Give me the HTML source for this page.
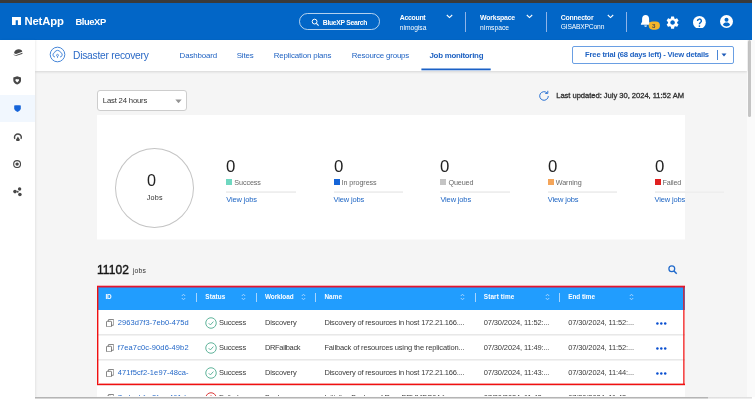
<!DOCTYPE html>
<html><head><meta charset="utf-8"><title>BlueXP</title>
<style>
*{box-sizing:border-box;margin:0;padding:0}
html,body{width:755px;height:401px;overflow:hidden;background:#fff;font-family:"Liberation Sans",sans-serif}
#root{position:relative;width:755px;height:401px;overflow:hidden;background:#fff}
.a{position:absolute}
.t{position:absolute;white-space:nowrap;line-height:1}
</style></head><body><div id="root">
<div class="a" style="left:0px;top:0px;width:752.0px;height:3.0px;background:#3a3a3a"></div>
<div class="a" style="left:0px;top:3px;width:752.0px;height:37.0px;background:#0266c7"></div>
<div class="a" style="left:35px;top:70px;width:712.0px;height:327.0px;background:#f5f5f5"></div>
<div class="a" style="left:747px;top:40px;width:8.0px;height:357.0px;background:#fafafa"></div>
<div class="a" style="left:748px;top:40px;width:3.0px;height:77.0px;background:#c4c4c4;border-radius:2px"></div>
<div class="a" style="left:35px;top:40px;width:712.0px;height:30.5px;background:#fff;box-shadow:0 1px 2.500px rgba(0,0,0,.13)"></div>
<div class="a" style="left:0px;top:40px;width:35.0px;height:357.0px;background:#fff;box-shadow:1px 0 2px rgba(0,0,0,.07)"></div>
<svg class="a" style="left:11.8px;top:17.4px" width="9.6" height="8.1" viewBox="0 0 9.6 8.1"><path d="M0 0h9.600v8.100H5.900V3.300H3.700V8.100H0z" fill="#fff"/></svg>
<div class="a" style="left:298.9px;top:13.1px;width:81.0px;height:17.1px;border:1px solid rgba(255,255,255,.7);border-radius:9px"></div>
<svg class="a" style="left:310.5px;top:18px" width="9" height="9" viewBox="0 0 9 9"><circle cx="3.600" cy="3.600" r="2.400" fill="none" stroke="#fff" stroke-width="1"/><path d="M5.400 5.400l2.200 2.200" stroke="#fff" stroke-width="1.100"/></svg>
<svg class="a" style="left:445.6px;top:14px" width="7" height="5" viewBox="0 0 7 5"><path d="M.8 1l2.700 2.600L6.200 1" fill="none" stroke="#fff" stroke-width="1.100"/></svg>
<svg class="a" style="left:526.1px;top:14px" width="7" height="5" viewBox="0 0 7 5"><path d="M.8 1l2.700 2.600L6.200 1" fill="none" stroke="#fff" stroke-width="1.100"/></svg>
<svg class="a" style="left:606.5px;top:14px" width="7" height="5" viewBox="0 0 7 5"><path d="M.8 1l2.700 2.600L6.200 1" fill="none" stroke="#fff" stroke-width="1.100"/></svg>
<div class="a" style="left:465px;top:12px;width:1.0px;height:19.5px;background:#8fb4e8"></div>
<div class="a" style="left:545.5px;top:12px;width:1.0px;height:19.5px;background:#8fb4e8"></div>
<div class="a" style="left:626px;top:12px;width:1.0px;height:19.5px;background:#8fb4e8"></div>
<svg class="a" style="left:640px;top:13.8px" width="22" height="17" viewBox="0 0 22 17"><path d="M5.600 1c-2.100 0-3.500 1.600-3.500 3.800v3L.9 9.900v.8h9.400v-.8L9.100 7.800v-3C9.100 2.600 7.700 1 5.600 1zM4.200 11.400a1.400 1.400 0 0 0 2.800 0z" fill="#fff"/><rect x="8.700" y="7.500" width="11.200" height="8.200" rx="4.100" fill="#f3b62a"/></svg>
<svg class="a" style="left:664.8px;top:14.5px" width="15.2" height="15.2" viewBox="0 0 24 24"><path fill="#fff" d="M19.140 12.940c.040-.300.060-.610.060-.940 0-.320-.020-.640-.070-.940l2.030-1.580a.490.490 0 0 0 .120-.610l-1.920-3.320a.488.488 0 0 0-.590-.220l-2.390.960c-.500-.380-1.030-.700-1.620-.940l-.360-2.540a.484.484 0 0 0-.480-.410h-3.840c-.240 0-.430.170-.470.410l-.360 2.540c-.590.240-1.130.570-1.620.940l-2.390-.960c-.220-.080-.470 0-.590.220L2.740 8.870c-.120.210-.080.470.120.610l2.030 1.580c-.050.300-.090.630-.090.940s.020.640.070.940l-2.030 1.580a.490.490 0 0 0-.120.610l1.920 3.320c.120.220.370.290.590.220l2.390-.960c.500.380 1.030.700 1.620.940l.360 2.540c.050.240.240.410.480.410h3.840c.240 0 .440-.170.470-.410l.360-2.540c.590-.240 1.130-.560 1.620-.940l2.390.960c.220.080.470 0 .590-.220l1.920-3.320c.120-.220.070-.470-.120-.610l-2.010-1.580zM12 15.600c-1.980 0-3.600-1.620-3.600-3.600s1.620-3.600 3.600-3.600 3.600 1.620 3.600 3.600-1.620 3.600-3.600 3.600z"/></svg>
<svg class="a" style="left:693px;top:15.5px" width="12.8" height="12.8" viewBox="0 0 12.8 12.8"><circle cx="6.400" cy="6.400" r="6.400" fill="#fff"/><path d="M4.500 5a1.950 1.950 0 1 1 2.900 1.700c-.7.400-1 .75-1 1.500" fill="none" stroke="#0266c7" stroke-width="1.400"/><circle cx="6.400" cy="10.100" r=".85" fill="#0266c7"/></svg>
<svg class="a" style="left:719.7px;top:15.4px" width="13" height="13" viewBox="0 0 13 13"><circle cx="6.500" cy="6.500" r="6.500" fill="#fff"/><circle cx="6.500" cy="4.800" r="2" fill="#0266c7"/><path d="M2.900 10c.5-1.900 2.100-2.500 3.600-2.500s3.100.6 3.600 2.500a5.100 5.100 0 0 1-7.200 0z" fill="#0266c7"/></svg>
<div class="a" style="left:0px;top:94.5px;width:35.0px;height:27.2px;background:#f1f7fe"></div>
<svg class="a" style="left:12.5px;top:49.3px" width="10" height="7" viewBox="0 0 10 7"><path d="M1.200 3.300C1.900 1.300 3.800.2 5.800.3 7.800.5 9.300 1.500 9.200 2.700L3.100 4.900C1.800 4.900.9 4.300 1.200 3.300z" fill="#484848"/><path d="M.4 4.700c.4.900 1.400 1.300 2.900 1.200L9.500 3.700c.2.600 0 1.100-.4 1.400L3.500 6.700C1.800 6.800.5 6 .4 4.700z" fill="#484848"/></svg>
<svg class="a" style="left:13px;top:76.3px" width="8.4" height="8.8" viewBox="0 0 8.4 8.8"><path d="M4.200.2L8.100 1.500v2.700c0 2.200-1.900 3.600-3.900 4.300C2.200 7.800.3 6.400.3 4.200V1.500z" fill="#484848"/><path d="M4.200 6.400L2.500 4.700a1.050 1.050 0 0 1 1.700-1.200 1.050 1.050 0 0 1 1.700 1.200z" fill="#fff"/></svg>
<svg class="a" style="left:13.7px;top:105.2px" width="7" height="7" viewBox="0 0 7 7"><path d="M.2.600C2.500.1 4.500.1 6.800.6v2.700C6.800 5.100 5.200 6.200 3.500 6.900 1.800 6.200.2 5.100.2 3.300z" fill="#1664d9"/></svg>
<svg class="a" style="left:12.6px;top:132.6px" width="9.8" height="8.4" viewBox="0 0 9.8 8.4"><path d="M1.300 6.200C-.3 3.200 2 .3 4.900.3s5.200 2.900 3.600 5.900L7.300 5.600C8.200 3.600 6.800 1.700 4.900 1.700S1.600 3.600 2.500 5.600z" fill="#484848"/><path d="M4.900 3.600L7 7H2.800z" fill="#484848"/><rect x="3.300" y="6.800" width="3.200" height="1.400" fill="#484848"/></svg>
<svg class="a" style="left:13.2px;top:160.2px" width="8.2" height="8.2" viewBox="0 0 8.2 8.2"><circle cx="4.100" cy="4.100" r="3.450" fill="none" stroke="#484848" stroke-width="1.100"/><circle cx="4.100" cy="4.100" r="1.700" fill="#484848"/></svg>
<svg class="a" style="left:13px;top:187.3px" width="9" height="9.6" viewBox="0 0 9 9.6"><circle cx="2" cy="4.600" r="1.800" fill="#484848"/><circle cx="6.600" cy="2" r="1.700" fill="#484848"/><circle cx="6.900" cy="7.500" r="1.800" fill="#484848"/><circle cx="4.700" cy="4.700" r="1" fill="#484848"/></svg>
<svg class="a" style="left:49px;top:46.2px" width="17" height="17" viewBox="0 0 17 17"><circle cx="8.500" cy="8.500" r="7.300" fill="none" stroke="#4585d8" stroke-width="1"/><path d="M6 11a2.200 2.200 0 0 1-.5-4.300 3.200 3.200 0 0 1 6.100-.2A2.300 2.300 0 0 1 11 11" fill="none" stroke="#4585d8" stroke-width=".95"/><circle cx="8.500" cy="9.300" r="1" fill="none" stroke="#4585d8" stroke-width=".8"/><path d="M8.500 10.300v1.500" stroke="#4585d8" stroke-width=".9"/></svg>
<svg class="a" style="left:421px;top:68px" width="70" height="3" viewBox="0 0 70 3"><rect x=".4" y=".5" width="69.300" height="1.800" fill="#1b61c6"/></svg>
<div class="a" style="left:572.3px;top:46px;width:161.5px;height:17.7px;border:1px solid #6a9fe3;border-radius:2px;background:#fff"></div>
<div class="a" style="left:717.2px;top:49.8px;width:1.0px;height:10.1px;background:#4a86d6"></div>
<svg class="a" style="left:721px;top:53.4px" width="6" height="4" viewBox="0 0 6 4"><path d="M.5.500h5L3 3.500z" fill="#1e5bb8"/></svg>
<div class="a" style="left:97px;top:90px;width:90.0px;height:21.0px;border:1px solid #cdcdcd;border-radius:3px;background:#fff"></div>
<svg class="a" style="left:174.8px;top:98.5px" width="7" height="4.5" viewBox="0 0 7 4.5"><path d="M.3.400h6.400L3.500 4.200z" fill="#959595"/></svg>
<svg class="a" style="left:538.2px;top:89.5px" width="12" height="12" viewBox="0 0 12 12"><path d="M10.300 6a4.300 4.300 0 1 1-1.400-3.200" fill="none" stroke="#2b73d4" stroke-width="1"/><path d="M9.800.8v2.600H7.200" fill="none" stroke="#2b73d4" stroke-width="1"/></svg>
<div class="a" style="left:97px;top:115px;width:587.5px;height:124.0px;background:#fff"></div>
<div class="a" style="left:97px;top:239px;width:587.5px;height:1.0px;background:#fafafa"></div>
<div class="a" style="left:114.6px;top:147.6px;width:79.2px;height:80.1px;border:1px solid #c4c4c4;border-radius:50%"></div>
<div class="a" style="left:226.3px;top:179px;width:6.0px;height:6.0px;background:#6fd7c0"></div>
<div class="a" style="left:226.3px;top:191px;width:69.5px;height:1.0px;background:#f1f1f1"></div>
<div class="a" style="left:226.3px;top:192px;width:69.5px;height:1.0px;background:#eeeeee"></div>
<div class="a" style="left:333.5px;top:179px;width:6.0px;height:6.0px;background:#1565d8"></div>
<div class="a" style="left:333.5px;top:191px;width:69.5px;height:1.0px;background:#f1f1f1"></div>
<div class="a" style="left:333.5px;top:192px;width:69.5px;height:1.0px;background:#eeeeee"></div>
<div class="a" style="left:440.4px;top:179px;width:6.0px;height:6.0px;background:#c4c4c4"></div>
<div class="a" style="left:440.4px;top:191px;width:69.5px;height:1.0px;background:#f1f1f1"></div>
<div class="a" style="left:440.4px;top:192px;width:69.5px;height:1.0px;background:#eeeeee"></div>
<div class="a" style="left:547.7px;top:179px;width:6.0px;height:6.0px;background:#f4a55a"></div>
<div class="a" style="left:547.7px;top:191px;width:69.5px;height:1.0px;background:#f1f1f1"></div>
<div class="a" style="left:547.7px;top:192px;width:69.5px;height:1.0px;background:#eeeeee"></div>
<div class="a" style="left:654.6px;top:179px;width:6.0px;height:6.0px;background:#e02020"></div>
<div class="a" style="left:654.6px;top:191px;width:69.5px;height:1.0px;background:#f1f1f1"></div>
<div class="a" style="left:654.6px;top:192px;width:69.5px;height:1.0px;background:#eeeeee"></div>
<svg class="a" style="left:667.9px;top:264.6px" width="10" height="10" viewBox="0 0 10 10"><circle cx="3.800" cy="3.800" r="2.900" fill="none" stroke="#1f69cb" stroke-width="1.250"/><path d="M6 6L8.700 8.700" stroke="#1f69cb" stroke-width="1.500"/></svg>
<div class="a" style="left:97px;top:286px;width:587.5px;height:24.0px;background:#219dfe"></div>
<div class="a" style="left:196.3px;top:293px;width:1.0px;height:9.0px;background:#a6d5fe"></div>
<div class="a" style="left:255.7px;top:293px;width:1.0px;height:9.0px;background:#a6d5fe"></div>
<div class="a" style="left:315.3px;top:293px;width:1.0px;height:9.0px;background:#a6d5fe"></div>
<div class="a" style="left:474.9px;top:293px;width:1.0px;height:9.0px;background:#a6d5fe"></div>
<div class="a" style="left:559.0px;top:293px;width:1.0px;height:9.0px;background:#a6d5fe"></div>
<svg class="a" style="left:181.2px;top:293.3px" width="5" height="8" viewBox="0 0 5 8"><path d="M.8 3L2.500 1.200 4.200 3M.8 5L2.500 6.800 4.200 5" fill="none" stroke="#a3d3fd" stroke-width="1"/></svg>
<svg class="a" style="left:241.1px;top:293.3px" width="5" height="8" viewBox="0 0 5 8"><path d="M.8 3L2.500 1.200 4.200 3M.8 5L2.500 6.800 4.200 5" fill="none" stroke="#a3d3fd" stroke-width="1"/></svg>
<svg class="a" style="left:300.5px;top:293.3px" width="5" height="8" viewBox="0 0 5 8"><path d="M.8 3L2.500 1.200 4.200 3M.8 5L2.500 6.800 4.200 5" fill="none" stroke="#a3d3fd" stroke-width="1"/></svg>
<svg class="a" style="left:459.8px;top:293.3px" width="5" height="8" viewBox="0 0 5 8"><path d="M.8 3L2.500 1.200 4.200 3M.8 5L2.500 6.800 4.200 5" fill="none" stroke="#a3d3fd" stroke-width="1"/></svg>
<svg class="a" style="left:544.5px;top:293.3px" width="5" height="8" viewBox="0 0 5 8"><path d="M.8 3L2.500 1.200 4.200 3M.8 5L2.500 6.800 4.200 5" fill="none" stroke="#a3d3fd" stroke-width="1"/></svg>
<svg class="a" style="left:629.2px;top:293.3px" width="5" height="8" viewBox="0 0 5 8"><path d="M.8 3L2.500 1.200 4.200 3M.8 5L2.500 6.800 4.200 5" fill="none" stroke="#a3d3fd" stroke-width="1"/></svg>
<div class="a" style="left:97px;top:310px;width:588.0px;height:87.0px;background:#fff"></div>
<div class="a" style="left:97px;top:334px;width:588.0px;height:1.0px;background:#e8e8e8"></div>
<div class="a" style="left:97px;top:335px;width:588.0px;height:1.0px;background:#f2f2f2"></div>
<div class="a" style="left:97px;top:359px;width:588.0px;height:1.0px;background:#e8e8e8"></div>
<div class="a" style="left:97px;top:360px;width:588.0px;height:1.0px;background:#f2f2f2"></div>
<div class="a" style="left:97px;top:384px;width:588.0px;height:1.0px;background:#e8e8e8"></div>
<div class="a" style="left:97px;top:385px;width:588.0px;height:1.0px;background:#f2f2f2"></div>
<svg class="a" style="left:105.9px;top:319.0px" width="8.3" height="8.3" viewBox="0 0 9 9"><rect x=".5" y="2.500" width="5.500" height="6" rx=".8" fill="#fff" stroke="#555" stroke-width=".8"/><path d="M2.500 2.500V1.300a.8.800 0 0 1 .8-.8H7.700a.8.800 0 0 1 .8.800V6a.8.800 0 0 1-.8.800H6" fill="none" stroke="#555" stroke-width=".8"/></svg>
<svg class="a" style="left:204.7px;top:316.6px" width="12" height="12" viewBox="0 0 12 12"><circle cx="6" cy="6" r="5.250" fill="none" stroke="#58b096" stroke-width=".95"/><path d="M3.700 6.200l1.700 1.700 3-3.300" fill="none" stroke="#58b096" stroke-width=".95"/></svg>
<svg class="a" style="left:656px;top:322.0px" width="11" height="3" viewBox="0 0 11 3"><circle cx="1.400" cy="1.500" r="1.250" fill="#0a4fd0"/><circle cx="5.300" cy="1.500" r="1.250" fill="#0a4fd0"/><circle cx="9.200" cy="1.500" r="1.250" fill="#0a4fd0"/></svg>
<svg class="a" style="left:105.9px;top:344.0px" width="8.3" height="8.3" viewBox="0 0 9 9"><rect x=".5" y="2.500" width="5.500" height="6" rx=".8" fill="#fff" stroke="#555" stroke-width=".8"/><path d="M2.500 2.500V1.300a.8.800 0 0 1 .8-.8H7.700a.8.800 0 0 1 .8.800V6a.8.800 0 0 1-.8.800H6" fill="none" stroke="#555" stroke-width=".8"/></svg>
<svg class="a" style="left:204.7px;top:341.6px" width="12" height="12" viewBox="0 0 12 12"><circle cx="6" cy="6" r="5.250" fill="none" stroke="#58b096" stroke-width=".95"/><path d="M3.700 6.200l1.700 1.700 3-3.300" fill="none" stroke="#58b096" stroke-width=".95"/></svg>
<svg class="a" style="left:656px;top:347.0px" width="11" height="3" viewBox="0 0 11 3"><circle cx="1.400" cy="1.500" r="1.250" fill="#0a4fd0"/><circle cx="5.300" cy="1.500" r="1.250" fill="#0a4fd0"/><circle cx="9.200" cy="1.500" r="1.250" fill="#0a4fd0"/></svg>
<svg class="a" style="left:105.9px;top:369.0px" width="8.3" height="8.3" viewBox="0 0 9 9"><rect x=".5" y="2.500" width="5.500" height="6" rx=".8" fill="#fff" stroke="#555" stroke-width=".8"/><path d="M2.500 2.500V1.300a.8.800 0 0 1 .8-.8H7.700a.8.800 0 0 1 .8.800V6a.8.800 0 0 1-.8.800H6" fill="none" stroke="#555" stroke-width=".8"/></svg>
<svg class="a" style="left:204.7px;top:366.6px" width="12" height="12" viewBox="0 0 12 12"><circle cx="6" cy="6" r="5.250" fill="none" stroke="#58b096" stroke-width=".95"/><path d="M3.700 6.200l1.700 1.700 3-3.300" fill="none" stroke="#58b096" stroke-width=".95"/></svg>
<svg class="a" style="left:656px;top:372.0px" width="11" height="3" viewBox="0 0 11 3"><circle cx="1.400" cy="1.500" r="1.250" fill="#0a4fd0"/><circle cx="5.300" cy="1.500" r="1.250" fill="#0a4fd0"/><circle cx="9.200" cy="1.500" r="1.250" fill="#0a4fd0"/></svg>
<svg class="a" style="left:105.9px;top:394.0px" width="8.3" height="8.3" viewBox="0 0 9 9"><rect x=".5" y="2.500" width="5.500" height="6" rx=".8" fill="#fff" stroke="#555" stroke-width=".8"/><path d="M2.500 2.500V1.300a.8.800 0 0 1 .8-.8H7.700a.8.800 0 0 1 .8.800V6a.8.800 0 0 1-.8.800H6" fill="none" stroke="#555" stroke-width=".8"/></svg>
<svg class="a" style="left:204.7px;top:391.6px" width="12" height="12" viewBox="0 0 12 12"><circle cx="6" cy="6" r="5.250" fill="none" stroke="#d93030" stroke-width=".95"/><path d="M6 3.300v3.300M6 8v.9" fill="none" stroke="#d93030" stroke-width=".95"/></svg>
<div class="a" id="tx" style="left:0;top:0;width:755px;height:401px;will-change:transform">
<div class="t" style="left:24.4px;top:16px;font-size:11.3px;color:#fff;letter-spacing:-0.145px;font-weight:bold">NetApp</div>
<div class="t" style="left:75.5px;top:17px;font-size:9.4px;color:#fff;letter-spacing:-0.438px;font-weight:bold">BlueXP</div>
<div class="t" style="left:322.8px;top:20px;font-size:6.8px;color:#fff;letter-spacing:-0.303px;font-weight:bold">BlueXP Search</div>
<div class="t" style="left:399.8px;top:15px;font-size:6.9px;color:#fff;letter-spacing:-0.283px;font-weight:bold">Account</div>
<div class="t" style="left:399.8px;top:25px;font-size:6.7px;color:#fff;letter-spacing:-0.021px">nimogisa</div>
<div class="t" style="left:480.1px;top:15px;font-size:6.9px;color:#fff;letter-spacing:-0.205px;font-weight:bold">Workspace</div>
<div class="t" style="left:480.1px;top:25px;font-size:6.7px;color:#fff;letter-spacing:0.047px">nimspace</div>
<div class="t" style="left:560.7px;top:15px;font-size:6.9px;color:#fff;letter-spacing:-0.197px;font-weight:bold">Connector</div>
<div class="t" style="left:560.7px;top:24px;font-size:6.7px;color:#fff;letter-spacing:-0.169px">GISABXPConn</div>
<div class="t" style="left:652.0px;top:23px;font-size:6.2px;color:#4a4a4a;letter-spacing:-0.053px;font-weight:bold">3</div>
<div class="t" style="left:73.0px;top:51px;font-size:10.2px;color:#2a69c6;letter-spacing:-0.216px">Disaster recovery</div>
<div class="t" style="left:179.6px;top:52px;font-size:7.9px;color:#1f62c2;letter-spacing:-0.145px">Dashboard</div>
<div class="t" style="left:236.7px;top:52px;font-size:7.9px;color:#1f62c2;letter-spacing:-0.129px">Sites</div>
<div class="t" style="left:273.7px;top:52px;font-size:7.9px;color:#1f62c2;letter-spacing:-0.141px">Replication plans</div>
<div class="t" style="left:351.7px;top:52px;font-size:7.9px;color:#1f62c2;letter-spacing:-0.180px">Resource groups</div>
<div class="t" style="left:429.5px;top:52px;font-size:7.9px;color:#1f62c2;letter-spacing:-0.266px;font-weight:bold">Job monitoring</div>
<div class="t" style="left:585.1px;top:51px;font-size:7.6px;color:#1f62c2;letter-spacing:-0.173px;font-weight:bold">Free trial (68 days left) - View details</div>
<div class="t" style="left:102.8px;top:97px;font-size:7.7px;color:#333;letter-spacing:-0.169px">Last 24 hours</div>
<div class="t" style="left:556.2px;top:92px;font-size:7.6px;color:#303030;letter-spacing:-0.034px;-webkit-text-stroke:.3px #303030">Last updated: July 30, 2024, 11:52 AM</div>
<div class="t" style="left:146.9px;top:172px;font-size:16.2px;color:#222;letter-spacing:0.584px">0</div>
<div class="t" style="left:146.7px;top:194px;font-size:7.2px;color:#333;letter-spacing:0.203px">Jobs</div>
<div class="t" style="left:226.3px;top:159px;font-size:16px;color:#222;letter-spacing:0.094px;transform:scaleX(1.05);transform-origin:0 50%">0</div>
<div class="t" style="left:234.3px;top:179px;font-size:7.2px;color:#686868;letter-spacing:-0.082px">Success</div>
<div class="t" style="left:226.3px;top:196px;font-size:7.5px;color:#1f66c4;letter-spacing:-0.152px">View jobs</div>
<div class="t" style="left:333.5px;top:159px;font-size:16px;color:#222;letter-spacing:0.094px;transform:scaleX(1.05);transform-origin:0 50%">0</div>
<div class="t" style="left:341.5px;top:179px;font-size:7.2px;color:#686868;letter-spacing:-0.079px">In progress</div>
<div class="t" style="left:333.5px;top:196px;font-size:7.5px;color:#1f66c4;letter-spacing:-0.152px">View jobs</div>
<div class="t" style="left:440.4px;top:159px;font-size:16px;color:#222;letter-spacing:0.094px;transform:scaleX(1.05);transform-origin:0 50%">0</div>
<div class="t" style="left:448.4px;top:179px;font-size:7.2px;color:#686868;letter-spacing:-0.096px">Queued</div>
<div class="t" style="left:440.4px;top:196px;font-size:7.5px;color:#1f66c4;letter-spacing:-0.152px">View jobs</div>
<div class="t" style="left:547.7px;top:159px;font-size:16px;color:#222;letter-spacing:0.094px;transform:scaleX(1.05);transform-origin:0 50%">0</div>
<div class="t" style="left:555.7px;top:179px;font-size:7.2px;color:#686868;letter-spacing:-0.071px">Warning</div>
<div class="t" style="left:547.7px;top:196px;font-size:7.5px;color:#1f66c4;letter-spacing:-0.152px">View jobs</div>
<div class="t" style="left:654.6px;top:159px;font-size:16px;color:#222;letter-spacing:0.094px;transform:scaleX(1.05);transform-origin:0 50%">0</div>
<div class="t" style="left:662.6px;top:179px;font-size:7.2px;color:#686868;letter-spacing:-0.196px">Failed</div>
<div class="t" style="left:654.6px;top:196px;font-size:7.5px;color:#1f66c4;letter-spacing:-0.152px">View jobs</div>
<div class="t" style="left:97.0px;top:264px;font-size:12px;color:#151515;letter-spacing:0.081px;-webkit-text-stroke:.4px #151515">11102</div>
<div class="t" style="left:132.8px;top:268px;font-size:6.8px;color:#333;letter-spacing:0.183px">jobs</div>
<div class="t" style="left:105.6px;top:294px;font-size:6.4px;color:#fff;letter-spacing:-0.253px;font-weight:bold">ID</div>
<div class="t" style="left:205.3px;top:294px;font-size:6.4px;color:#fff;letter-spacing:0.111px;font-weight:bold">Status</div>
<div class="t" style="left:265.0px;top:294px;font-size:6.4px;color:#fff;letter-spacing:-0.062px;font-weight:bold">Workload</div>
<div class="t" style="left:324.4px;top:294px;font-size:6.4px;color:#fff;letter-spacing:0.048px;font-weight:bold">Name</div>
<div class="t" style="left:483.8px;top:294px;font-size:6.4px;color:#fff;letter-spacing:0.122px;font-weight:bold">Start time</div>
<div class="t" style="left:568.2px;top:294px;font-size:6.4px;color:#fff;letter-spacing:-0.025px;font-weight:bold">End time</div>
<div class="t" style="left:117.8px;top:319px;font-size:7.5px;color:#2468c8;letter-spacing:0.069px">2963d7f3-7eb0-475d</div>
<div class="t" style="left:219.0px;top:319px;font-size:7.5px;color:#3a3a3a;letter-spacing:-0.194px">Success</div>
<div class="t" style="left:265.0px;top:319px;font-size:7.5px;color:#3a3a3a;letter-spacing:-0.160px">Discovery</div>
<div class="t" style="left:324.4px;top:319px;font-size:7.5px;color:#3a3a3a;letter-spacing:-0.187px">Discovery of resources in host 172.21.166....</div>
<div class="t" style="left:483.8px;top:319px;font-size:7.5px;color:#3a3a3a;letter-spacing:-0.132px">07/30/2024, 11:52:...</div>
<div class="t" style="left:568.2px;top:319px;font-size:7.5px;color:#3a3a3a;letter-spacing:-0.117px">07/30/2024, 11:52:...</div>
<div class="t" style="left:117.8px;top:344px;font-size:7.5px;color:#2468c8;letter-spacing:0.116px">f7ea7c0c-90d6-49b2</div>
<div class="t" style="left:219.0px;top:344px;font-size:7.5px;color:#3a3a3a;letter-spacing:-0.194px">Success</div>
<div class="t" style="left:265.0px;top:344px;font-size:7.5px;color:#3a3a3a;letter-spacing:-0.357px">DRFailback</div>
<div class="t" style="left:324.4px;top:344px;font-size:7.5px;color:#3a3a3a;letter-spacing:-0.138px">Failback of resources using the replication...</div>
<div class="t" style="left:483.8px;top:344px;font-size:7.5px;color:#3a3a3a;letter-spacing:-0.132px">07/30/2024, 11:49:...</div>
<div class="t" style="left:568.2px;top:344px;font-size:7.5px;color:#3a3a3a;letter-spacing:-0.117px">07/30/2024, 11:52:...</div>
<div class="t" style="left:117.8px;top:369px;font-size:7.5px;color:#2468c8;letter-spacing:0.088px">471f5cf2-1e97-48ca-</div>
<div class="t" style="left:219.0px;top:369px;font-size:7.5px;color:#3a3a3a;letter-spacing:-0.194px">Success</div>
<div class="t" style="left:265.0px;top:369px;font-size:7.5px;color:#3a3a3a;letter-spacing:-0.160px">Discovery</div>
<div class="t" style="left:324.4px;top:369px;font-size:7.5px;color:#3a3a3a;letter-spacing:-0.187px">Discovery of resources in host 172.21.166....</div>
<div class="t" style="left:483.8px;top:369px;font-size:7.5px;color:#3a3a3a;letter-spacing:-0.132px">07/30/2024, 11:43:...</div>
<div class="t" style="left:568.2px;top:369px;font-size:7.5px;color:#3a3a3a;letter-spacing:-0.117px">07/30/2024, 11:44:...</div>
<div class="t" style="left:117.8px;top:394px;font-size:7.5px;color:#2468c8;letter-spacing:0.088px">7cdaebfa-2fac-461d-</div>
<div class="t" style="left:219.0px;top:394px;font-size:7.5px;color:#3a3a3a;letter-spacing:-0.156px">Failed</div>
<div class="t" style="left:265.0px;top:394px;font-size:7.5px;color:#3a3a3a;letter-spacing:-0.172px">Backup</div>
<div class="t" style="left:324.4px;top:394px;font-size:7.5px;color:#3a3a3a;letter-spacing:-0.218px">Initialize Backup of Rep_BRVMDS04 for ev...</div>
<div class="t" style="left:483.8px;top:394px;font-size:7.5px;color:#3a3a3a;letter-spacing:-0.132px">07/30/2024, 11:42:...</div>
<div class="t" style="left:568.2px;top:394px;font-size:7.5px;color:#3a3a3a;letter-spacing:-0.117px">07/30/2024, 11:43:...</div>
</div>
<div class="a" style="left:97px;top:285px;width:588.0px;height:1.0px;background:rgba(235,20,30,.3)"></div>
<div class="a" style="left:97px;top:286px;width:588.0px;height:1.0px;background:#e21430"></div>
<div class="a" style="left:97px;top:287px;width:588.0px;height:1.0px;background:rgba(214,24,60,.5)"></div>
<div class="a" style="left:97px;top:383px;width:588.0px;height:1.0px;background:rgba(240,16,16,.4)"></div>
<div class="a" style="left:97px;top:384px;width:588.0px;height:1.0px;background:#f01010"></div>
<div class="a" style="left:97px;top:385px;width:588.0px;height:1.0px;background:rgba(240,16,16,.15)"></div>
<div class="a" style="left:97px;top:286px;width:1.0px;height:99.0px;background:#f01010"></div>
<div class="a" style="left:98px;top:288px;width:1.0px;height:95.0px;background:rgba(240,16,16,.4)"></div>
<div class="a" style="left:683px;top:287px;width:1.0px;height:97.0px;background:rgba(240,16,16,.75)"></div>
<div class="a" style="left:684px;top:286px;width:1.0px;height:99.0px;background:rgba(240,16,16,.5)"></div>
<div class="a" style="left:97px;top:396px;width:588.0px;height:1.0px;background:#fdfdfd"></div>
<div class="a" style="left:0px;top:397px;width:755.0px;height:4.0px;background:#fff"></div>
<div class="a" style="left:35px;top:397px;width:673.0px;height:2.0px;background:linear-gradient(#a4a4a4,#e6e6e6)"></div>
<div class="a" style="left:708px;top:397px;width:44.0px;height:2.0px;background:linear-gradient(#d9d9d9,#f4f4f4)"></div>
</div></body></html>
